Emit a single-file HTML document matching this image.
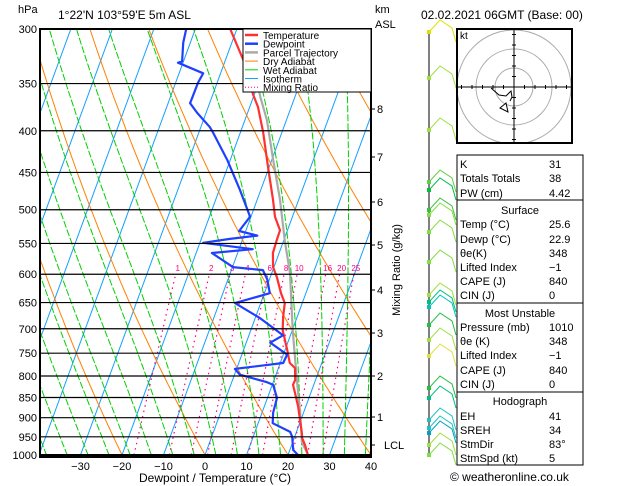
<!DOCTYPE html>
<html><head><meta charset="utf-8"><style>
body{margin:0;background:#fff;}
svg{display:block;font-family:"Liberation Sans",sans-serif;}
</style></head><body>
<svg id="c" width="629" height="486" viewBox="0 0 629 486"></svg>
<script>
// ---- data ----
const pressTicks=[300,350,400,450,500,550,600,650,700,750,800,850,900,950,1000];
const tempTicks=[-30,-20,-10,0,10,20,30,40];
const tempP=[1000,972,953,940,906,873,839,820,809,782,771,743,703,677,651,633,605,588,565,546,530,510,486,443,402,374,361,327,300];
const tempT=[24.8,23.2,21.9,21.4,19.8,18.2,16.2,15.0,15.1,14.0,12.3,10.5,7.7,6.6,5.8,4.0,1.6,-0.2,-1.5,-1.7,-1.8,-4.2,-6.2,-10.3,-14.5,-18.0,-20.3,-25.8,-31.6];
const dewP=[1000,986,950,937,914,888,851,820,814,797,784,771,753,728,713,679,651,633,609,593,588,565,559,549,543,538,531,510,473,434,402,396,380,370,349,340,330,329,312,300];
const dewT=[22.4,20.8,19.4,18.5,13.5,12.7,12.3,10.2,8.5,1.3,-0.4,10.7,10.9,5.8,8.2,1.1,-6.2,1.3,-0.5,-2.4,-9.9,-16.2,-6.7,-19.2,-13.1,-6.8,-11.6,-10.2,-15.0,-20.8,-26.6,-27.8,-32.2,-34.7,-34.6,-34.2,-41.2,-40.3,-41.7,-42.2];
const parcelP=[994,966,888,809,703,598,546,486,434,388,363,301];
const parcelT=[24.4,22.3,19.2,15.5,10.1,4.4,0.3,-4.5,-9.7,-14.7,-18.4,-27.5];
const mixRatios=[1,2,3,4,6,8,10,16,20,25];
const kmTicks=[1,2,3,4,5,6,7,8];
const kmY=[417,376,333,290,245,202,157,109];
// ---- axes ----
const L=40,R=371,T0=29,B=455;
function y(p){return T0+353.8*Math.log(p/300);}
function x(t,p){return 205+4.15*t+0.367*(B-y(p));}
const NS='http://www.w3.org/2000/svg';
const svg=document.getElementById('c');
function el(tag,attrs,parent){const e=document.createElementNS(NS,tag);for(const k in attrs)e.setAttribute(k,attrs[k]);(parent||svg).appendChild(e);return e;}
function txt(s,attrs,parent){const e=el('text',attrs,parent);e.textContent=s;return e;}
const defs=el('defs',{});
const cp=el('clipPath',{id:'pc'},defs);el('rect',{x:L,y:T0,width:R-L,height:B-T0},cp);
const g=el('g',{'clip-path':'url(#pc)'});


// isotherms
for(let t=-110;t<=40;t+=10){const e=el('line',{x1:x(t,1050),y1:y(1050),x2:x(t,280),y2:y(280),stroke:'#14a0ff','stroke-width':1},g);
}
// dry adiabats
for(let th=-80;th<=240;th+=20){let pts=[];for(let p=1050;p>=280;p-=10){const tk=(th+273.15)*Math.pow(p/1000,0.286);pts.push(x(tk-273.15,p).toFixed(1)+','+y(p).toFixed(1));}
const e=el('polyline',{points:pts.join(' '),fill:'none',stroke:'#ff8000','stroke-width':1},g);
}
// wet adiabats
function es(tc){return 6.112*Math.exp(17.67*tc/(tc+243.5));}
for(let tw=-40;tw<=40;tw+=5){let tk=tw+273.15;let pts=[];for(let p=1050;p>=280;p-=5){
 const tc=tk-273.15;pts.push(x(tc,p).toFixed(1)+','+y(p).toFixed(1));
 const e=es(tc),rs=0.622*e/(p-e);const d=(287*tk+2.5e6*rs)/(p*(1004+2.5e6*2.5e6*rs*0.622/(287*tk*tk)));tk-=d*5;}
const e2=el('polyline',{points:pts.join(' '),fill:'none',stroke:'#00d000','stroke-width':1,'stroke-dasharray':'7,2'},g);
}
// mixing ratio
mixRatios.forEach(w=>{let pts=[];for(let p=1000;p>=600;p-=10){const e=w*p/(622+w);const l=Math.log(e/6.112);const td=243.5*l/(17.67-l);pts.push(x(td,p).toFixed(1)+','+y(p).toFixed(1));}
const m=el('polyline',{points:pts.join(' '),fill:'none',stroke:'#ff0080','stroke-width':1.2,'stroke-dasharray':'1.5,4'},g);

const e=w*600/(622+w);const l=Math.log(e/6.112);const td=243.5*l/(17.67-l);
const t=txt(String(w),{x:x(td,600)+2,y:271,fill:'#ff0080','font-size':8,'text-anchor':'middle'},g);
});
// isobars
pressTicks.forEach(p=>{const e=el('line',{x1:L,y1:y(p),x2:R,y2:y(p),stroke:'#000','stroke-width':1.2});

const t=txt(String(p),{x:37,y:y(p)+4,'font-size':11,'text-anchor':'end'});
});
// profiles
function prof(P,Tt,col,w,name){const pts=P.map((p,i)=>x(Tt[i],p).toFixed(1)+','+y(p).toFixed(1));
const e=el('polyline',{points:pts.join(' '),fill:'none',stroke:col,'stroke-width':w,'stroke-linejoin':'round'},g);
}
prof(parcelP,parcelT,'#aaaaaa',2.2,'parcel-trajectory');
prof(tempP,tempT,'#ff3030',2.2,'temperature-line');
prof(dewP,dewT,'#2040ff',2.2,'dewpoint-line');
// frame
const fr=el('rect',{x:L,y:T0,width:R-L,height:B-T0,fill:'none',stroke:'#000','stroke-width':2});

el('line',{x1:L-1,y1:B+2,x2:R+1,y2:B+2,stroke:'#000','stroke-width':2});
tempTicks.forEach(t=>{const tl=txt(String(t).replace('-','\u2212'),{x:205+4.15*t,y:470,'font-size':11,'text-anchor':'middle'});
});
kmTicks.forEach((k,i)=>{el('line',{x1:R,y1:kmY[i],x2:R+4,y2:kmY[i],stroke:'#000'});
const tl=txt(String(k),{x:377,y:kmY[i]+4,'font-size':11});
});
el('line',{x1:R,y1:445,x2:R+4,y2:445,stroke:'#000'});
// legend
const lg=el('g',{});
el('rect',{x:243,y:29,width:128,height:63,fill:'#fff',stroke:'#000','stroke-width':1},lg);
[['Temperature','#ff3030',2.5,''],['Dewpoint','#2040ff',2.5,''],['Parcel Trajectory','#aaaaaa',2.5,''],['Dry Adiabat','#ff8000',1,''],['Wet Adiabat','#00d000',1,''],['Isotherm','#14a0ff',1,''],['Mixing Ratio','#ff0080',1,'1,2']].forEach((it,i)=>{
const yy=35+i*8.7;el('line',{x1:245,y1:yy,x2:258,y2:yy,stroke:it[1],'stroke-width':it[2],'stroke-dasharray':it[3]},lg);
const t=txt(it[0],{x:263,y:yy+4,'font-size':10},lg);});
// wind column
const wc=el('g',{});
el('line',{x1:429,y1:30,x2:429,y2:456,stroke:'#000','stroke-width':1},wc);
const barbs=[[32,'#e0e000'],[78,'#a0e040'],[130,'#a0e040'],[182,'#60d040'],[190,'#00c040'],[210,'#40c040'],[215,'#80e040'],[232,'#80e040'],[262,'#80e040'],[295,'#a0e040'],[302,'#00c080'],[307,'#00c0c0'],[325,'#20c040'],[340,'#a0e040'],[356,'#e0e040'],[388,'#20c040'],[398,'#00c080'],[420,'#20c0c0'],[428,'#20c0c0'],[433,'#00a0c0'],[445,'#a0e040'],[455,'#80e040']];
barbs.forEach(b=>{const yy=b[0];const e=el('polyline',{points:`429,${yy} 440,${yy-12} 452,${yy-4} 456,${yy+10}`,fill:'none',stroke:b[1],'stroke-width':1},wc);

el('rect',{x:427,y:yy-2,width:4,height:4,fill:b[1]},wc);});
// hodograph
const hg=el('g',{});
el('rect',{x:457,y:29,width:115,height:114,fill:'#fff',stroke:'#000','stroke-width':2},hg);
const hcp=el('clipPath',{id:'hc'},defs);el('rect',{x:458,y:30,width:113,height:112},hcp);
const hin=el('g',{'clip-path':'url(#hc)'},hg);
[19,38,57].forEach(r=>el('circle',{cx:514,cy:87,r:r,fill:'none',stroke:'#aaa'},hin));
el('line',{x1:457,y1:87,x2:572,y2:87,stroke:'#000'},hg);el('line',{x1:514,y1:29,x2:514,y2:143,stroke:'#000'},hg);
for(let i=-5;i<=5;i++){if(!i)continue;el('line',{x1:514+i*10.5,y1:85,x2:514+i*10.5,y2:89,stroke:'#000'},hg);el('line',{x1:512,y1:87+i*10.5,x2:516,y2:87+i*10.5,stroke:'#000'},hg);}
el('polyline',{points:'491,88 499,95 506,96 511,91 512,97 510,101',fill:'none',stroke:'#000'},hg);
el('polygon',{points:'500,108 508,112 506,103',fill:'none',stroke:'#000'},hg);
txt('kt',{x:460,y:39,'font-size':10},hg);
// table
const tb=el('g',{});
el('rect',{x:457,y:155,width:126,height:310,fill:'none',stroke:'#000','stroke-width':1},tb);
[200,303,392].forEach(yy=>el('line',{x1:457,y1:yy,x2:583,y2:yy,stroke:'#000'},tb));
const rows=[[164,'K','31'],[178,'Totals Totals','38'],[193,'PW (cm)','4.42'],[210,'Surface',null],[224,'Temp (°C)','25.6'],[239,'Dewp (°C)','22.9'],[253,'θe(K)','348'],[267,'Lifted Index','\u22121'],[281,'CAPE (J)','840'],[295,'CIN (J)','0'],[313,'Most Unstable',null],[327,'Pressure (mb)','1010'],[341,'θe (K)','348'],[355,'Lifted Index','\u22121'],[370,'CAPE (J)','840'],[384,'CIN (J)','0'],[401,'Hodograph',null],[416,'EH','41'],[430,'SREH','34'],[444,'StmDir','83°'],[458,'StmSpd (kt)','5']];
rows.forEach(r=>{if(r[2]===null){const t=txt(r[1],{x:520,y:r[0]+4,'font-size':11,'text-anchor':'middle'},tb);}
else{const t=txt(r[1],{x:460,y:r[0]+4,'font-size':11},tb);
const v=txt(r[2],{x:549,y:r[0]+4,'font-size':11},tb);}});
// titles
[['hPa',18,13,11,'pressure-axis-title'],["1°22'N 103°59'E 5m ASL",58,19,12,'location-title'],['km',375,13,11,'km-axis-title'],['ASL',375,28,11,'km-axis-subtitle'],['02.02.2021 06GMT (Base: 00)',421,19,12,'date-title'],['LCL',384,449,11,'lcl-label'],['© weatheronline.co.uk',450,481,12,'copyright']].forEach(a=>{
const t=txt(a[0],{x:a[1],y:a[2],'font-size':a[3]});});
const xl=txt('Dewpoint / Temperature (°C)',{x:215,y:482,'font-size':12,'text-anchor':'middle'});

const yl=txt('Mixing Ratio (g/kg)',{x:0,y:0,'font-size':11,'text-anchor':'middle',transform:'translate(400,270) rotate(-90)'});

</script>
</body></html>
